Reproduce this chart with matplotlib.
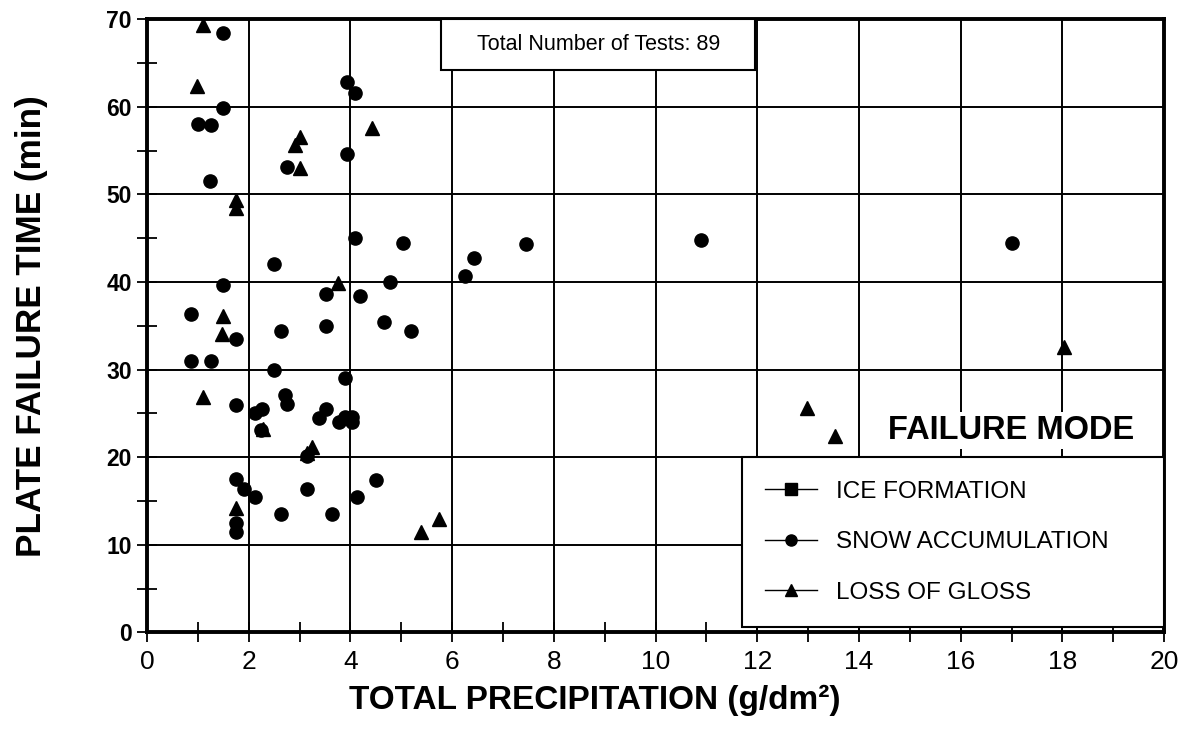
import matplotlib
matplotlib.use('Agg')
import matplotlib.pyplot as plt
from matplotlib.lines import Line2D
from matplotlib.patches import Rectangle
import numpy as np

# snow accumulation (circles)
snow_x = [1.50, 1.50, 1.00, 1.25, 3.93, 4.09, 3.93, 2.75, 1.24, 4.09, 5.03, 2.50,
          4.77, 1.50, 3.52, 4.18, 0.87, 3.52, 4.65, 5.19, 2.63, 1.75, 0.87, 1.25,
          2.50, 3.90, 1.75, 2.72, 2.75, 2.13, 2.27, 2.25, 3.52, 3.39, 3.77, 3.90,
          4.03, 4.03, 3.14, 1.75, 1.90, 2.13, 3.14, 4.50, 4.13, 1.75, 1.75, 2.63,
          3.64, 6.26, 6.43, 7.45, 10.9, 17.0]
snow_y = [68.4, 59.9, 58.0, 57.9, 62.8, 61.6, 54.6, 53.1, 51.5, 45.0, 44.4, 42.0,
          40.0, 39.6, 38.6, 38.4, 36.3, 35.0, 35.4, 34.4, 34.4, 33.5, 31.0, 31.0,
          30.0, 29.0, 26.0, 27.1, 26.1, 25.0, 25.5, 23.1, 25.5, 24.5, 24.0, 24.6,
          24.6, 24.0, 20.1, 17.5, 16.4, 15.5, 16.4, 17.4, 15.5, 12.5, 11.5, 13.5,
          13.5, 40.7, 42.7, 44.3, 44.8, 44.4]

# loss of gloss (triangles)
gloss_x = [1.11, 0.99, 3.01, 2.91, 4.42, 3.00, 1.75, 1.75, 3.75, 1.49, 1.47, 1.11,
           2.29, 3.24, 3.14, 1.75, 5.39, 5.75, 12.98, 13.53, 18.03]
gloss_y = [69.3, 62.4, 56.5, 55.6, 57.6, 53.0, 49.4, 48.4, 39.9, 36.1, 34.0, 26.9,
           23.2, 21.2, 20.5, 14.2, 11.4, 12.9, 25.6, 22.4, 32.6]

labels = ['ICE FORMATION', 'SNOW ACCUMULATION', 'LOSS OF GLOSS']

plt.rcParams['font.family'] = ['Liberation Sans', 'DejaVu Sans']

fig = plt.figure(figsize=(11.83, 7.32), dpi=100)
ax = fig.add_axes([0.1243, 0.1362, 0.8597, 0.8377])

ax.set_xlim(0, 20)
ax.set_ylim(0, 70)
ax.set_xticks(np.arange(0, 21, 2))
ax.set_yticks(np.arange(0, 71, 10))
ax.set_xticks(np.arange(1, 20, 2), minor=True)
ax.set_yticks(np.arange(5, 70, 10), minor=True)
ax.grid(True, which='major', color='black', linewidth=1.4, zorder=0)
ax.set_axisbelow(True)

for s in ax.spines.values():
    s.set_linewidth(2.8)

ax.tick_params(which='both', direction='inout', length=14, width=1.3)
for lb in ax.get_xticklabels():
    lb.set_fontsize(19)
for lb in ax.get_yticklabels():
    lb.set_fontsize(16.5)
    lb.set_fontweight('bold')
ax.tick_params(axis='x', pad=6)
ax.tick_params(axis='y', pad=4)

ax.plot(snow_x, snow_y, 'o', color='black', markersize=9.5, linestyle='none', zorder=3)
ax.plot(gloss_x, gloss_y, '^', color='black', markersize=10.5, linestyle='none', zorder=3,
        clip_on=False)

ax.set_xlabel('TOTAL PRECIPITATION (g/dm²)', fontsize=24, fontweight='bold')
ax.xaxis.set_label_coords(0.44, -0.085)
ax.set_ylabel('PLATE FAILURE TIME (min)', fontsize=25.3, fontweight='bold')
ax.yaxis.set_label_coords(-0.097, 0.5)

# total tests box
ax.add_patch(Rectangle((5.79, 64.2), 6.17, 5.8, facecolor='white', edgecolor='black',
                       linewidth=1.5, zorder=4))
ax.text(8.875, 67.1, 'Total Number of Tests: 89', ha='center', va='center',
        fontsize=15.5, zorder=5)

# failure mode title
ax.text(17.0, 23.0, 'FAILURE MODE', ha='center', va='center', fontsize=23.5,
        fontweight='bold', zorder=5,
        bbox=dict(facecolor='white', edgecolor='none', pad=2))

handles = [Line2D([], [], color='black', linewidth=1, marker='s', markersize=8),
           Line2D([], [], color='black', linewidth=1, marker='o', markersize=8),
           Line2D([], [], color='black', linewidth=1, marker='^', markersize=9)]
leg = ax.legend(handles, labels, loc='lower left',
                bbox_to_anchor=(11.7 / 20, 0.6 / 70, 8.3 / 20, 19.4 / 70),
                mode='expand', prop={'size': 17.5},
                frameon=True, fancybox=False, edgecolor='black', framealpha=1,
                handlelength=2.15, handletextpad=0.75, labelspacing=1.18,
                borderpad=0.95, borderaxespad=0)
leg.get_frame().set_linewidth(1.5)
leg.set_zorder(6)

fig.savefig('out.png', dpi=100)
